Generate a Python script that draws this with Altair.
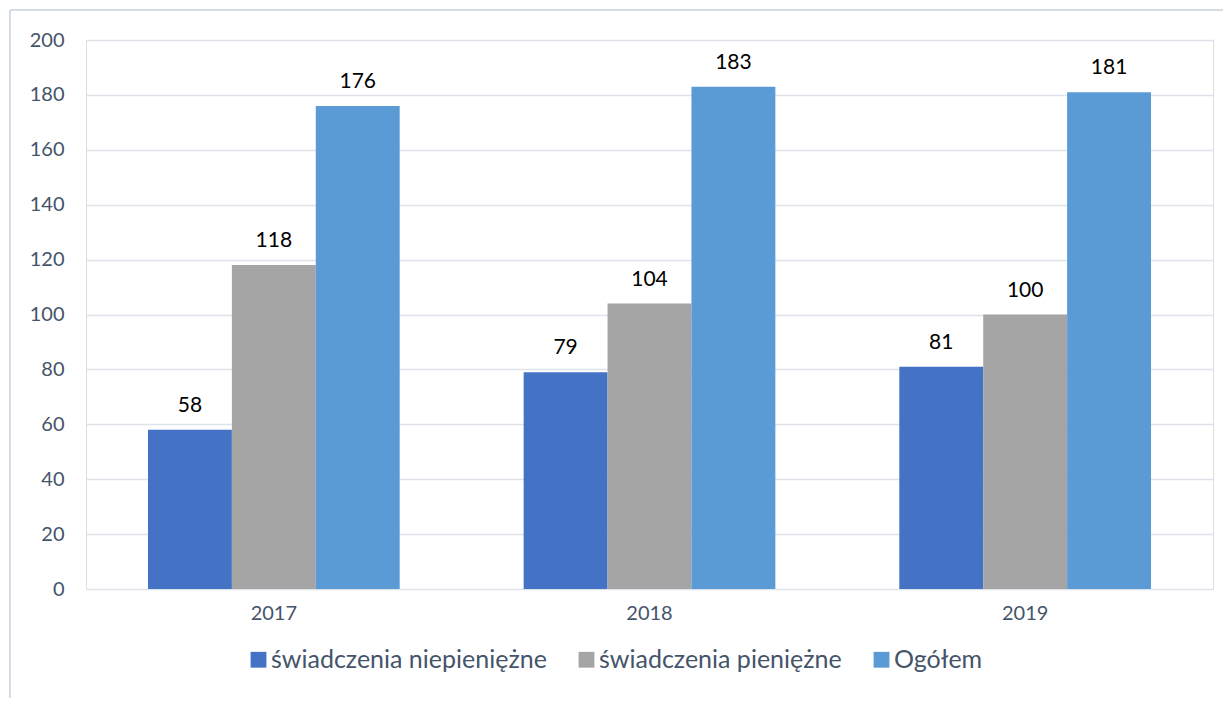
import altair as alt
import pandas as pd

years = ["2017", "2018", "2019"]
series = ["świadczenia niepieniężne", "świadczenia pieniężne", "Ogółem"]
niepieniezne = [58, 79, 81]
pieniezne = [118, 104, 100]
ogolem = [176, 183, 181]
colors = ["#4472C4", "#A5A5A5", "#5B9BD5"]
y_ticks = [0, 20, 40, 60, 80, 100, 120, 140, 160, 180, 200]

rows = []
for vals, s in zip([niepieniezne, pieniezne, ogolem], series):
    for yr, v in zip(years, vals):
        rows.append({"Rok": yr, "Seria": s, "Wartość": v})
df = pd.DataFrame(rows)

FONT = "Lato"
TXT = "#44546A"

x_enc = alt.X("Rok:N", sort=years,
              scale=alt.Scale(paddingInner=0.33, paddingOuter=0.165),
              axis=alt.Axis(title=None, labelAngle=0, ticks=False, domain=False,
                            labelPadding=14, labelFontSize=20, labelColor=TXT,
                            labelFont=FONT, grid=False))
xo_enc = alt.XOffset("Seria:N", sort=series, scale=alt.Scale(paddingInner=0, paddingOuter=0))
y_enc = alt.Y("Wartość:Q", scale=alt.Scale(domain=[0, 200], nice=False),
              axis=alt.Axis(title=None, values=y_ticks, ticks=False, domain=False,
                            labelPadding=22, labelFontSize=20, labelColor=TXT,
                            labelFont=FONT, grid=True, gridColor="#DEE2EA", gridWidth=1.5))

base = alt.Chart(df)
bars = base.mark_bar().encode(
    x=x_enc, xOffset=xo_enc, y=y_enc,
    color=alt.Color("Seria:N", sort=series,
                    scale=alt.Scale(domain=series, range=colors),
                    legend=alt.Legend(title=None, orient="none", direction="horizontal",
                                      legendX=160, legendY=607,
                                      symbolType="square", symbolSize=250,
                                      symbolStrokeWidth=0, labelFontSize=25,
                                      labelFont=FONT, labelColor=TXT,
                                      columnPadding=27, labelOffset=0,
                                      labelLimit=400)),
)
labels = base.mark_text(font=FONT, fontSize=21, color="#000000",
                        baseline="alphabetic", dy=-18).encode(
    x=alt.X("Rok:N", sort=years), xOffset=alt.XOffset("Seria:N", sort=series),
    y=alt.Y("Wartość:Q"), text=alt.Text("Wartość:Q"))

frame_df = pd.DataFrame({"a": [0]})
frame_left = alt.Chart(frame_df).mark_rule(color="#D6DCE5", strokeWidth=2).encode(
    x=alt.value(-76), y=alt.value(-30), y2=alt.value(660))
frame_top = alt.Chart(frame_df).mark_rule(color="#D6DCE5", strokeWidth=2).encode(
    x=alt.value(-76), x2=alt.value(1140), y=alt.value(-30))

chart = alt.layer(bars, labels, frame_left, frame_top).properties(
    width=1127, height=549,
    autosize=alt.AutoSizeParams(type="none"),
    padding={"left": 78, "top": 32, "right": 10, "bottom": 109},
).configure_view(stroke=None).configure(font=FONT)

chart.save("out.html", embed_options={"renderer": "svg", "actions": False})
